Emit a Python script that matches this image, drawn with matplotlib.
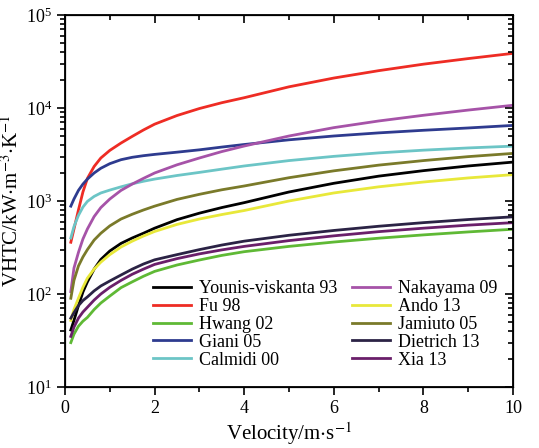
import matplotlib
matplotlib.use("Agg")
import matplotlib.pyplot as plt
from matplotlib.ticker import LogLocator, MultipleLocator, NullFormatter

plt.rcParams['font.family'] = ['Liberation Serif', 'DejaVu Serif']
plt.rcParams['mathtext.fontset'] = 'stix'

# velocity grid (m/s) and VHTC values (kW/m3/K)
velocity = [0.13, 0.2, 0.3, 0.4, 0.5, 0.65, 0.8, 1.0, 1.25, 1.5, 1.75, 2,
            2.5, 3, 3.5, 4, 5, 6, 7, 8, 9, 10]

younis = [41, 52, 75, 105, 135, 185, 235, 290, 350, 400, 450, 510,
          630, 740, 850, 960, 1250, 1550, 1850, 2120, 2380, 2620]
fu = [360, 500, 800, 1250, 1750, 2350, 2900, 3500, 4200, 4950, 5800, 6700,
      8300, 9870, 11400, 12900, 16900, 21000, 25200, 29600, 34000, 38700]
hwang = [30, 37, 45, 51, 56, 68, 80, 95, 117, 135, 155, 175,
         205, 232, 260, 285, 325, 362, 398, 432, 465, 497]
giani = [880, 1050, 1300, 1520, 1720, 2000, 2250, 2520, 2780, 2950, 3070, 3170,
         3350, 3550, 3800, 4050, 4550, 5000, 5400, 5760, 6100, 6500]
calmidi = [400, 530, 700, 860, 990, 1120, 1220, 1310, 1420, 1530, 1630, 1720,
           1880, 2030, 2200, 2380, 2720, 3020, 3290, 3520, 3720, 3890]
nakayama = [106, 190, 280, 390, 500, 680, 850, 1050, 1300, 1520, 1750, 2000,
            2450, 2900, 3400, 3900, 5000, 6150, 7250, 8350, 9500, 10700]
ando = [52, 68, 90, 118, 148, 185, 220, 265, 320, 370, 420, 470,
        560, 640, 715, 790, 1000, 1220, 1420, 1600, 1770, 1920]
jamiuto = [90, 140, 200, 250, 300, 380, 450, 540, 640, 720, 800, 880,
           1040, 1180, 1320, 1450, 1780, 2110, 2430, 2720, 3000, 3250]
dietrich = [55, 63, 75, 85, 93, 108, 122, 138, 160, 185, 210, 233,
            265, 300, 336, 370, 428, 482, 535, 585, 632, 676]
xia = [35, 44, 55, 64, 72, 86, 100, 118, 140, 163, 185, 208,
       240, 270, 298, 325, 375, 422, 468, 510, 550, 585]

series = [
    ("Younis-viskanta 93", younis, "#000000"),
    ("Fu 98", fu, "#ee2c24"),
    ("Hwang 02", hwang, "#5fb935"),
    ("Giani 05", giani, "#2e3b8f"),
    ("Calmidi 00", calmidi, "#6cc5c6"),
    ("Nakayama 09", nakayama, "#a653a8"),
    ("Ando 13", ando, "#e8e83a"),
    ("Jamiuto 05", jamiuto, "#7a7a2a"),
    ("Dietrich 13", dietrich, "#2b2345"),
    ("Xia 13", xia, "#6a1f6a"),
]

fig = plt.figure(figsize=(5.39, 4.48), dpi=100)
ax = fig.add_axes([0.1206, 0.1362, 0.8312, 0.8303])

for name, vals, col in series:
    ax.plot(velocity, vals, color=col, lw=2, label=name)

ax.set_yscale('log')
ax.set_xlim(0, 10)
ax.set_ylim(10, 1e5)
ax.xaxis.set_major_locator(MultipleLocator(2))
ax.xaxis.set_minor_locator(MultipleLocator(1))
ax.yaxis.set_major_locator(LogLocator(base=10, numticks=10))
ax.yaxis.set_minor_locator(LogLocator(base=10, subs=range(2, 10), numticks=10))
ax.yaxis.set_minor_formatter(NullFormatter())
ax.tick_params(which='both', direction='out', labelsize=13, width=1.2)
ax.tick_params(which='major', length=6)
ax.tick_params(which='minor', length=3.5)
for s in ax.spines.values():
    s.set_linewidth(1.3)

ax.set_xlabel(r'Velocity/m$\cdot$s$^{-1}$', fontsize=15, labelpad=2)
ax.set_ylabel(r'VHTC/kW$\cdot$m$^{-3}$$\cdot$K$^{-1}$', fontsize=15, labelpad=2)

# top and right ticks point inward
axr = ax.twinx()
axr.set_yscale('log')
axr.set_ylim(ax.get_ylim())
axr.yaxis.set_major_locator(LogLocator(base=10, numticks=10))
axr.yaxis.set_minor_locator(LogLocator(base=10, subs=range(2, 10), numticks=10))
axr.tick_params(which='both', direction='in', labelright=False, width=1.2)
axr.tick_params(which='major', length=6)
axr.tick_params(which='minor', length=3.5)

axt = ax.twiny()
axt.set_xlim(ax.get_xlim())
axt.xaxis.set_major_locator(MultipleLocator(2))
axt.xaxis.set_minor_locator(MultipleLocator(1))
axt.tick_params(which='both', direction='in', labeltop=False, width=1.2)
axt.tick_params(which='major', length=6)
axt.tick_params(which='minor', length=3.5)

ax.legend(ncol=2, frameon=False, fontsize=13, loc='lower right',
          bbox_to_anchor=(0.99, 0.02), handlelength=2.1, handletextpad=0.45,
          columnspacing=0.8, labelspacing=0.05, borderaxespad=0.2)

fig.savefig("out.png", dpi=100)
